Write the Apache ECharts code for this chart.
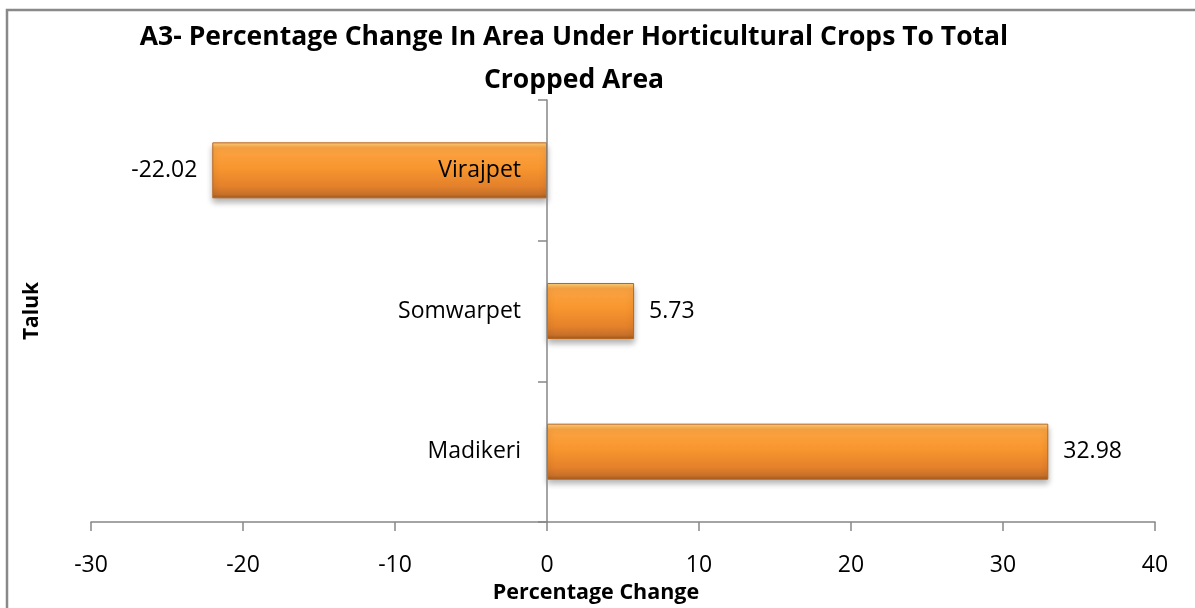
<!DOCTYPE html>
<html>
<head>
<meta charset="utf-8">
<script src="https://cdn.jsdelivr.net/npm/echarts@6/dist/echarts.min.js"></script>
<style>
	html, body { margin: 0; padding: 0; background: #fff; }
	#chart { width: 1195px; height: 608px; }
</style>
</head>
<body>
<div id="chart"></div>
<script>
// taluks, bottom to top as drawn
const taluks = ['Madikeri', 'Somwarpet', 'Virajpet']
const pctChange = [32.98, 5.73, -22.02]
const xTicks = [-30, -20, -10, 0, 10, 20, 30, 40]

const myEchart = echarts.init(document.getElementById('chart'))

// bevelled orange bar fill
const barFill = new echarts.graphic.LinearGradient(0, 0, 0, 1, [
	{ offset: 0, color: '#fdd27c' },
	{ offset: 0.1, color: '#fba443' },
	{ offset: 0.45, color: '#f8962f' },
	{ offset: 0.78, color: '#e4812b' },
	{ offset: 0.93, color: '#c7702a' },
	{ offset: 1, color: '#9f581c' }
])

const option = {
	animation: false,
	title: {
		text: 'A3- Percentage Change In Area Under Horticultural Crops To Total\nCropped Area',
		left: 569,
		textAlign: 'center',
		top: 11,
		textStyle: {
			fontFamily: 'Open Sans',
			fontWeight: 'bold',
			fontSize: 26.5,
			lineHeight: 43,
			color: '#000'
		}
	},
	graphic: [
		{
			type: 'rect',
			z: -1,
			shape: { x: 7, y: 10, width: 1300, height: 700 },
			style: { fill: 'none', stroke: '#898989', lineWidth: 2.5 }
		}
	],
	grid: {
		left: 91,
		right: 40,
		top: 100,
		bottom: 86,
		outerBoundsMode: 'none'
	},
	xAxis: {
		type: 'value',
		min: xTicks[0],
		max: xTicks[xTicks.length - 1],
		interval: 10,
		name: 'Percentage Change',
		nameLocation: 'middle',
		nameGap: 58,
		nameTextStyle: {
			fontFamily: 'Open Sans',
			fontWeight: 'bold',
			fontSize: 21.5,
			color: '#000',
			padding: [0, 54, 0, 0]
		},
		axisLine: { show: true, lineStyle: { color: '#868686', width: 1.5 } },
		axisTick: { show: true, length: 9, lineStyle: { color: '#868686', width: 1.5 } },
		axisLabel: {
			margin: 32,
			fontFamily: 'Open Sans',
			fontSize: 23,
			color: '#000'
		},
		splitLine: { show: false }
	},
	yAxis: {
		type: 'category',
		data: taluks,
		z: 5,
		// shift the whole axis from the grid's left edge to x = 0
		offset: -456,
		name: 'Taluk',
		nameLocation: 'middle',
		nameGap: 504,
		nameTextStyle: {
			fontFamily: 'Open Sans',
			fontWeight: 'bold',
			fontSize: 21,
			color: '#000'
		},
		axisLine: { show: true, onZero: false, lineStyle: { color: '#868686', width: 1.5 } },
		axisTick: { show: true, length: 9, lineStyle: { color: '#868686', width: 1.5 } },
		axisLabel: {
			margin: 26,
			fontFamily: 'Open Sans',
			fontSize: 23,
			color: '#000'
		}
	},
	series: [
		{
			type: 'bar',
			data: pctChange.map(v => ({
				value: v,
				label: { position: v < 0 ? 'left' : 'right' }
			})),
			barWidth: 56,
			itemStyle: {
				color: barFill,
				borderColor: '#b8661f',
				borderWidth: 1,
				shadowColor: 'rgba(0, 0, 0, 0.3)',
				shadowBlur: 6,
				shadowOffsetY: 4
			},
			label: {
				show: true,
				distance: 15,
				fontFamily: 'Open Sans',
				fontSize: 23,
				color: '#000',
				formatter: p => p.value.toFixed(2)
			}
		}
	]
}

myEchart.setOption(option)
</script>
</body>
</html>
